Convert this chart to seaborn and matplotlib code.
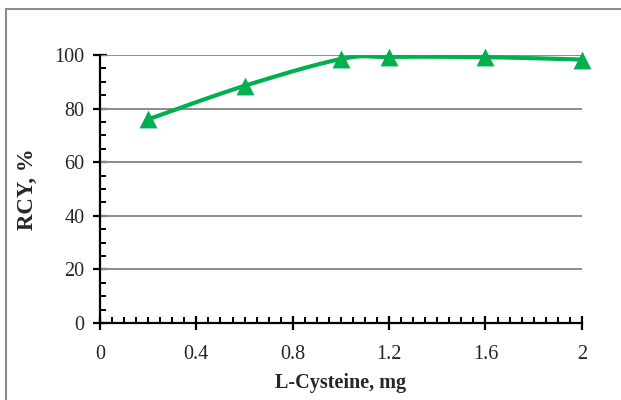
import numpy as np
import pandas as pd
import matplotlib
matplotlib.use("Agg")
import matplotlib.pyplot as plt
from matplotlib.patches import Rectangle
from matplotlib.ticker import MultipleLocator
import seaborn as sns

# L-cysteine amount (mg) vs radiochemical yield (%)
cysteine_mg = [0.2, 0.6, 1.0, 1.2, 1.6, 2.0]
rcy_pct = [76, 88.5, 98.5, 99.3, 99.2, 98.3]

x_ticks = [0, 0.4, 0.8, 1.2, 1.6, 2.0]
x_tick_labels = ["0", "0.4", "0.8", "1.2", "1.6", "2"]
y_ticks = [0, 20, 40, 60, 80, 100]

GREEN = "#00B050"

sns.set_theme(style="white")
plt.rcParams["font.family"] = ["Liberation Serif", "DejaVu Serif"]


def smooth_curve(xs, ys, sx, sy, n=40):
    """Cardinal (Catmull-Rom style) Bezier smoothing computed in screen-like units."""
    P = np.column_stack([np.asarray(xs) * sx, np.asarray(ys) * sy])
    out = []
    for i in range(len(P) - 1):
        p0 = P[i - 1] if i > 0 else P[i]
        p1, p2 = P[i], P[i + 1]
        p3 = P[i + 2] if i + 2 < len(P) else P[i + 1]
        c1 = p1 + (p2 - p0) / 6.0
        c2 = p2 - (p3 - p1) / 6.0
        t = np.linspace(0, 1, n)[:, None]
        seg = ((1 - t) ** 3) * p1 + 3 * ((1 - t) ** 2) * t * c1 + 3 * (1 - t) * t ** 2 * c2 + t ** 3 * p2
        out.append(seg if i == 0 else seg[1:])
    pts = np.vstack(out)
    return pts[:, 0] / sx, pts[:, 1] / sy


fig = plt.figure(figsize=(6.21, 4.0), dpi=100)
fig.patch.set_facecolor("white")
ax = fig.add_axes([0.161, 0.1925, 0.776, 0.67])

# outer frame of the chart area
fig.patches.append(Rectangle((6 / 621, -0.1), 1.2, 1 - 9 / 400 + 0.1,
                             transform=fig.transFigure, fill=False,
                             edgecolor="#8c8c8c", linewidth=1.5))

ax.set_xlim(0, 2)
ax.set_ylim(0, 100)

for yv in y_ticks[1:]:
    ax.axhline(yv, color="#8c8c8c", linewidth=1.4, zorder=1)

sx_, sy_ = smooth_curve(cysteine_mg, rcy_pct, 241.0, 2.68)
curve = pd.DataFrame({"x": sx_, "y": sy_})
sns.lineplot(data=curve, x="x", y="y", ax=ax, color=GREEN, linewidth=3.0,
             sort=False, zorder=3)
pts = pd.DataFrame({"x": cysteine_mg, "y": rcy_pct})
sns.scatterplot(data=pts, x="x", y="y", ax=ax, marker="^", s=165,
                color=GREEN, linewidth=0, zorder=4, clip_on=False)

for side in ["top", "right"]:
    ax.spines[side].set_visible(False)
for side in ["left", "bottom"]:
    ax.spines[side].set_color("black")
    ax.spines[side].set_linewidth(1.6)
    ax.spines[side].set_zorder(5)

ax.set_xticks(x_ticks)
ax.set_xticklabels(x_tick_labels)
ax.set_yticks(y_ticks)
ax.xaxis.set_minor_locator(MultipleLocator(0.05))
ax.yaxis.set_minor_locator(MultipleLocator(5))
ax.tick_params(axis="x", which="major", direction="inout", length=10, width=1.6,
               color="black", labelsize=14.5, pad=11, bottom=True)
ax.tick_params(axis="x", which="minor", direction="in", length=4, width=1.4,
               color="black", bottom=True)
ax.tick_params(axis="y", which="major", direction="inout", length=10, width=1.6,
               color="black", labelsize=14.5, pad=6, left=True)
ax.tick_params(axis="y", which="minor", direction="in", length=4, width=1.4,
               color="black", left=True)
ax.grid(False)

ax.set_xlabel("L-Cysteine, mg", fontsize=14.5, fontweight="bold", labelpad=6)
ax.set_ylabel("RCY, %", fontsize=16.5, fontweight="bold", labelpad=12)

fig.savefig("out.png", dpi=100, facecolor="white")
